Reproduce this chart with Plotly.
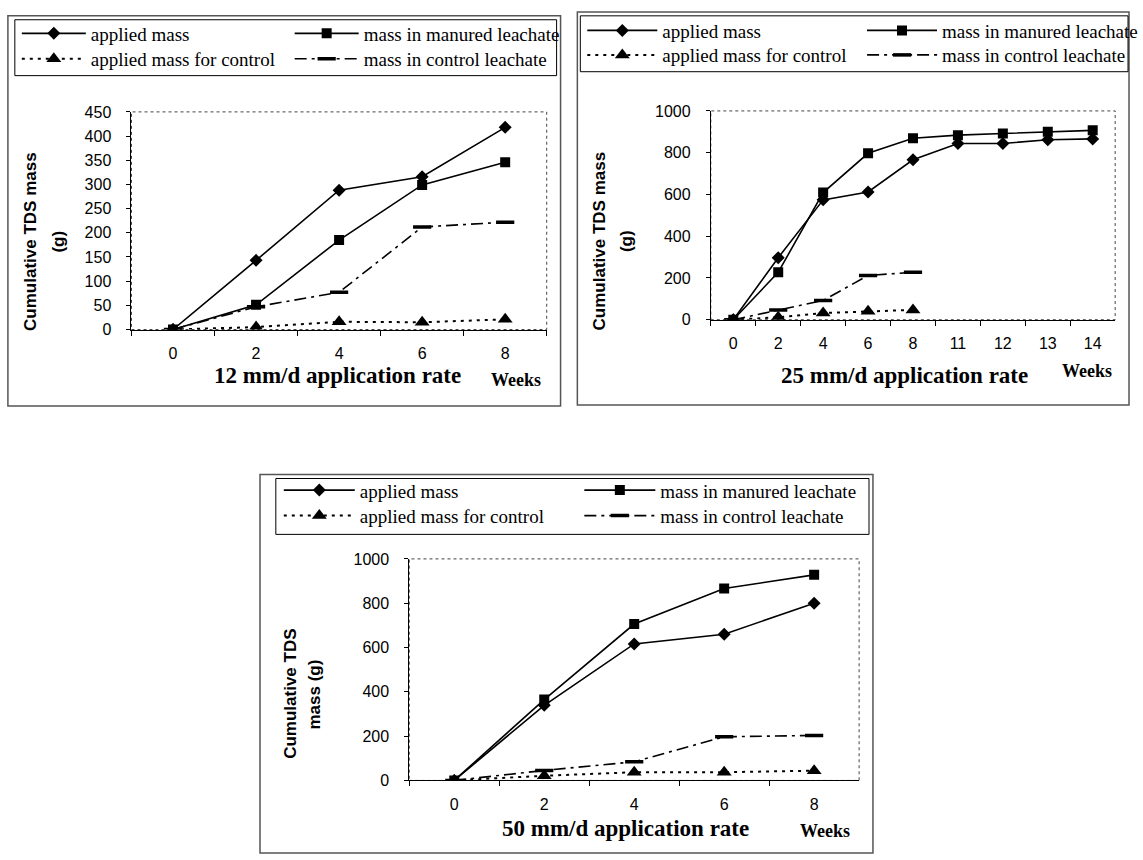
import plotly.graph_objects as go

# ---------------------------------------------------------------- data
weeks_8 = ["0", "2", "4", "6", "8"]
weeks_14 = ["0", "2", "4", "6", "8", "11", "12", "13", "14"]

series_names = [
    "applied mass",
    "mass in manured leachate",
    "applied mass for control",
    "mass in control leachate",
]

# 12 mm/d application rate (g)
r12_applied = [0, 143, 288, 316, 418]
r12_manured = [0, 51, 185, 299, 346]
r12_ctrl_applied = [0, 5, 16, 15, 21]
r12_ctrl_leachate = [0, 47, 77, 212, 222]

# 25 mm/d application rate (g); control runs stop at week 8
r25_applied = [0, 297, 574, 612, 766, 844, 844, 862, 866]
r25_manured = [0, 227, 609, 797, 869, 884, 892, 900, 907]
r25_ctrl_applied = [0, 12, 32, 40, 47]
r25_ctrl_leachate = [0, 46, 92, 212, 227]

# 50 mm/d application rate (g)
r50_applied = [0, 339, 616, 660, 800]
r50_manured = [0, 365, 706, 866, 928]
r50_ctrl_applied = [0, 21, 37, 37, 44]
r50_ctrl_leachate = [0, 45, 84, 197, 203]

panel_titles = ["12 mm/d application rate", "25 mm/d application rate",
                "50 mm/d application rate"]
y_title_lines = [["Cumulative TDS mass", "(g)"],
                 ["Cumulative TDS mass", "(g)"],
                 ["Cumulative TDS", "mass (g)"]]

# ---------------------------------------------------------------- layout geometry (pixels)
W, H = 1143, 860


def fx(px):
    return px / W


def fy(py):
    return 1 - py / H


panels = [
    dict(cats=weeks_8, ymax=450, dtick=50,
         series=[r12_applied, r12_manured, r12_ctrl_applied, r12_ctrl_leachate],
         plot=(133, 106, 553, 328), outer=(8, 8, 567, 406), legbox=(15, 12, 563, 69),
         rows=(26, 52), cols=(22, 298), itemwidth=64,
         title_xy=(341, 375), weeks_xy=(522, 380),
         ytitle_x=(31, 59), ytitle_y=238),
    dict(cats=weeks_14, ymax=1000, dtick=200,
         series=[r25_applied, r25_manured, r25_ctrl_applied, r25_ctrl_leachate],
         plot=(719, 105, 1128, 318), outer=(584, 4, 1142, 405), legbox=(587, 8, 1141, 65),
         rows=(23, 48), cols=(594, 877), itemwidth=70,
         title_xy=(915, 375), weeks_xy=(1099, 370),
         ytitle_x=(606, 633), ytitle_y=238),
    dict(cats=weeks_8, ymax=1000, dtick=200,
         series=[r50_applied, r50_manured, r50_ctrl_applied, r50_ctrl_leachate],
         plot=(414, 562, 869, 788), outer=(263, 476, 883, 862), legbox=(279, 480, 879, 537),
         rows=(492, 518), cols=(287, 591), itemwidth=71,
         title_xy=(633, 837), weeks_xy=(834, 840),
         ytitle_x=(293, 318), ytitle_y=700),
]

styles = [
    dict(line=dict(color="black", width=1.6),
         marker=dict(symbol="diamond", size=10, color="black")),
    dict(line=dict(color="black", width=1.6),
         marker=dict(symbol="square", size=10, color="black")),
    dict(line=dict(color="black", width=2, dash="3px,5px"),
         marker=dict(symbol="triangle-up", size=13, color="black")),
    dict(line=dict(color="black", width=1.6, dash="12px,5px,3px,5px"),
         marker=dict(symbol="line-ew", size=13, color="black",
                     line=dict(color="black", width=3.5))),
]

ARIAL = "Arial, Liberation Sans, sans-serif"
TIMES = "Times New Roman, Liberation Serif, serif"

fig = go.Figure()
layout = dict(
    width=W, height=H,
    margin=dict(l=0, r=0, t=0, b=0),
    paper_bgcolor="white", plot_bgcolor="white",
    showlegend=True,
    annotations=[], shapes=[],
)

legend_id = 0
for p_i, p in enumerate(panels):
    ax = "" if p_i == 0 else str(p_i + 1)
    x0, y0, x1, y1 = p["plot"]

    for s_i, (name, ys) in enumerate(zip(series_names, p["series"])):
        legend_id += 1
        leg = "legend" if legend_id == 1 else f"legend{legend_id}"
        fig.add_trace(go.Scatter(
            x=p["cats"][:len(ys)], y=ys, name=name, mode="lines+markers",
            xaxis="x" + ax, yaxis="y" + ax, legend=leg,
            **styles[s_i],
        ))
        row = p["rows"][s_i // 2]
        col = p["cols"][s_i % 2]
        layout[leg] = dict(
            x=fx(col - 5), y=fy(row), xanchor="left", yanchor="middle",
            bgcolor="rgba(0,0,0,0)", borderwidth=0, itemwidth=p["itemwidth"],
            font=dict(family=TIMES, size=19, color="black"),
        )

    layout["xaxis" + ax] = dict(
        domain=[fx(x0), fx(x1)], anchor="y" + ax,
        type="category", categoryorder="array", categoryarray=p["cats"],
        range=[-0.5, len(p["cats"]) - 0.5],
        tickson="boundaries", ticks="outside", ticklen=5, tickcolor="black",
        showline=True, linecolor="black", linewidth=1,
        showgrid=False, zeroline=False, ticklabelstandoff=9,
        tickfont=dict(family=ARIAL, size=16, color="black"),
    )
    layout["yaxis" + ax] = dict(
        domain=[fy(y1), fy(y0)], anchor="x" + ax,
        range=[0, p["ymax"]], dtick=p["dtick"],
        ticks="outside", ticklen=4, tickcolor="black",
        showline=True, linecolor="black", linewidth=1,
        showgrid=False, zeroline=False, ticklabelstandoff=12,
        tickfont=dict(family=ARIAL, size=16, color="black"),
    )

    # plot-area frame (thin dotted grey) behind the data
    layout["shapes"].append(dict(
        type="rect", xref=f"x{ax} domain", yref=f"y{ax} domain",
        x0=0, x1=1, y0=0, y1=1, layer="below",
        line=dict(color="#444", width=1, dash="dot")))
    # chart border
    ox0, oy0, ox1, oy1 = p["outer"]
    layout["shapes"].append(dict(
        type="rect", xref="paper", yref="paper",
        x0=fx(ox0), x1=fx(ox1), y0=fy(oy1), y1=fy(oy0),
        line=dict(color="#555", width=1.5)))
    # legend frame
    lx0, ly0, lx1, ly1 = p["legbox"]
    layout["shapes"].append(dict(
        type="rect", xref="paper", yref="paper",
        x0=fx(lx0), x1=fx(lx1), y0=fy(ly1), y1=fy(ly0),
        line=dict(color="black", width=1)))

    # axis titles
    tx, ty = p["title_xy"]
    layout["annotations"].append(dict(
        text="<b>" + panel_titles[p_i] + "</b>", xref="paper", yref="paper",
        x=fx(tx), y=fy(ty), xanchor="center", yanchor="middle", showarrow=False,
        font=dict(family=TIMES, size=23, color="black")))
    wx, wy = p["weeks_xy"]
    layout["annotations"].append(dict(
        text="<b>Weeks</b>", xref="paper", yref="paper",
        x=fx(wx), y=fy(wy), xanchor="center", yanchor="middle", showarrow=False,
        font=dict(family=TIMES, size=18, color="black")))
    for line_text, lx in zip(y_title_lines[p_i], p["ytitle_x"]):
        layout["annotations"].append(dict(
            text="<b>" + line_text + "</b>", xref="paper", yref="paper",
            x=fx(lx), y=fy(p["ytitle_y"]), xanchor="center", yanchor="middle",
            textangle=-90, showarrow=False,
            font=dict(family=ARIAL, size=17, color="black")))

fig.update_layout(**layout)
fig.write_html("out.html")
